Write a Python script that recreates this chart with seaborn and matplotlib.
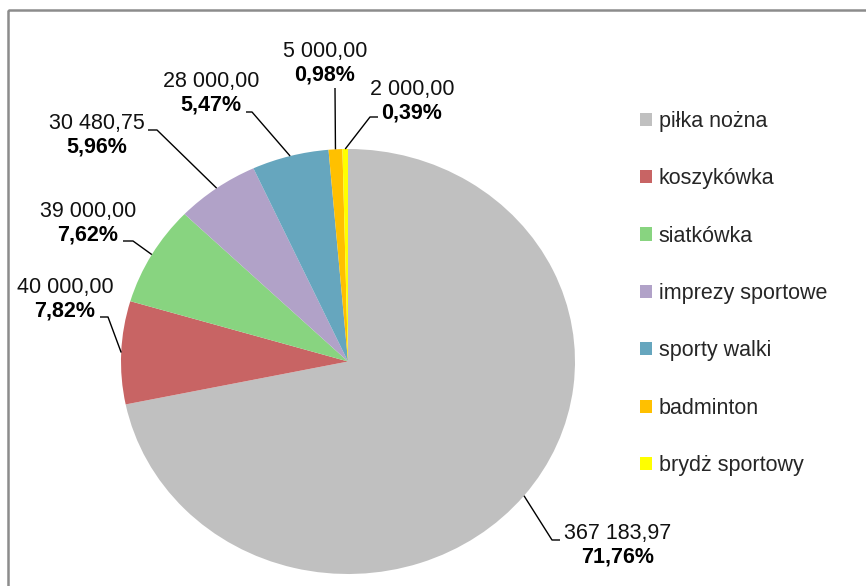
import numpy as np
import matplotlib
matplotlib.use("Agg")
import matplotlib.pyplot as plt
from matplotlib.patches import Rectangle
import seaborn as sns

categories = ["piłka nożna", "koszykówka", "siatkówka", "imprezy sportowe",
              "sporty walki", "badminton", "brydż sportowy"]
values = [367183.97, 40000.00, 39000.00, 30480.75, 28000.00, 5000.00, 2000.00]
colors = ["#C0C0C0", "#C86464", "#88D480", "#B1A2C8", "#66A6BE", "#FFC000", "#FFFF00"]

# label layout (pixel coords): value-line centre, leader text end, leader elbow
label_xy = [(618, 533), (65, 287), (88, 211), (97, 123), (211, 81), (325, 51), (412, 89)]
leader_text_end = [(560, 540), (100, 317), (123, 241), (148, 130), (246, 112), (335, 88), (378, 117)]
leader_elbow = [(552, 540), (108, 317), (133, 241), (157, 130), (252, 112), (335, 88), (370, 117)]

sns.set_style("white")
plt.rcParams["font.family"] = ["Liberation Sans", "DejaVu Sans"]

W, H = 866, 586
fig = plt.figure(figsize=(W / 100, H / 100), dpi=100)
fig.patch.set_facecolor("white")

cx, cy, rx, ry = 348, 361.5, 227, 212.5
ax = fig.add_axes([(cx - rx) / W, (H - cy - ry) / H, 2 * rx / W, 2 * ry / H])
wedges, _ = ax.pie(values, colors=colors, startangle=90, counterclock=False,
                   wedgeprops=dict(linewidth=0))
ax.set_aspect("auto")
ax.set_xlim(-1, 1)
ax.set_ylim(-1, 1)
ax.axis("off")

ov = fig.add_axes([0, 0, 1, 1], zorder=5)
ov.set_xlim(0, W)
ov.set_ylim(H, 0)
ov.axis("off")
ov.patch.set_alpha(0)

# outer frame
ov.add_patch(Rectangle((8, 10), 870, 590, fill=False, edgecolor="#8C8C8C", linewidth=1.8))

total = sum(values)
to_ov = ax.transData + ov.transData.inverted()
for i, v in enumerate(values):
    w = wedges[i]
    mid = np.deg2rad((w.theta1 + w.theta2) / 2)
    sx, sy = to_ov.transform((np.cos(mid), np.sin(mid)))
    ex, ey = leader_elbow[i]
    tx, ty = leader_text_end[i]
    ov.plot([sx, ex, tx], [sy, ey, ty], color="black", lw=1.0, solid_capstyle="butt")
    val_txt = f"{v:,.2f}".replace(",", " ").replace(".", ",")
    pct_txt = f"{100 * v / total:.2f}".replace(".", ",") + "%"
    lx, ly = label_xy[i]
    ov.text(lx, ly, val_txt, ha="center", va="center", fontsize=15.5, color="#111111")
    ov.text(lx, ly + 24.5, pct_txt, ha="center", va="center", fontsize=15.5,
            fontweight="bold", color="black")

leg = fig.legend(wedges, categories, loc="center left",
                 bbox_to_anchor=(640 / W, 1 - 293.5 / H), frameon=False,
                 fontsize=15.5, handlelength=0.56, handleheight=0.56,
                 handletextpad=0.32, labelspacing=1.69, borderpad=0, borderaxespad=0)

fig.savefig("out.png", dpi=100)
